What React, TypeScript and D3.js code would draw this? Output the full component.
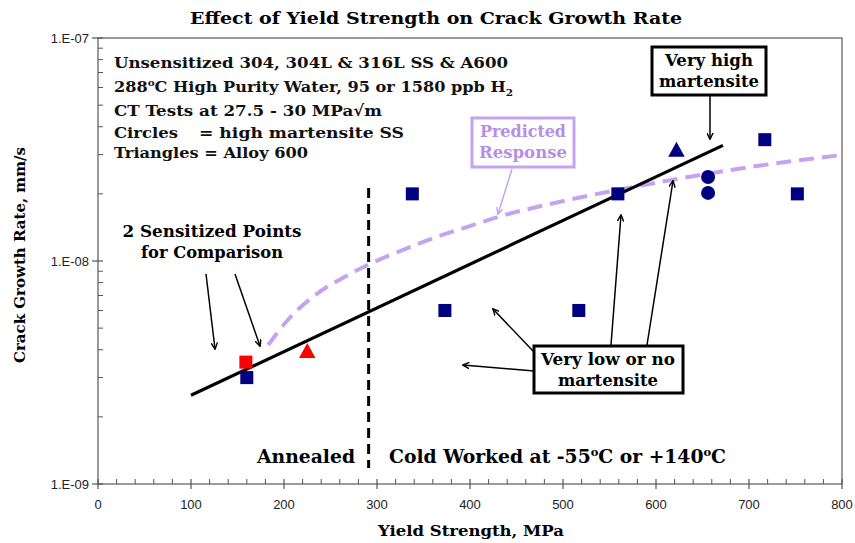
import React from "react";
import * as d3 from "d3";

// ---- data ----
const navySquareX = [160, 338, 373, 517, 559, 717, 752];
const navySquareY = [3.0e-9, 2.0e-8, 6.0e-9, 6.0e-9, 2.0e-8, 3.5e-8, 2.0e-8];
const navyCircleX = [656, 656];
const navyCircleY = [2.38e-8, 2.02e-8];
const navyTriangleX = [622];
const navyTriangleY = [3.15e-8];
const redSquareX = [159];
const redSquareY = [3.52e-9];
const redTriangleX = [225];
const redTriangleY = [3.94e-9];
const trendX = [100, 672];
const trendY = [2.5e-9, 3.3e-8];
const predictedX = [183, 206, 235, 263, 292, 325, 364, 407, 432, 486, 558, 629, 701, 800];
const predictedY = [4.2e-9, 5.55e-9, 7.11e-9, 8.39e-9, 9.69e-9, 1.109e-8, 1.281e-8, 1.466e-8, 1.584e-8, 1.801e-8, 2.081e-8, 2.356e-8, 2.639e-8, 2.988e-8];
const dividerX = 291;
const xTicks = [0, 100, 200, 300, 400, 500, 600, 700, 800];
const yTicks = [1e-9, 1e-8, 1e-7];
const yTickLabels = ["1.E-09", "1.E-08", "1.E-07"];

const W = 855, H = 543;
const M = { left: 98, right: 842, top: 38, bottom: 484 };

const NAVY = "#000080";
const RED = "#ff0000";
const PURPLE = "#c6a3f0";
const PURPLE_TEXT = "#b48fe6";
const SERIF = "'DejaVu Serif', serif";
const SANS = "'Liberation Sans', Arial, sans-serif";

export default function App() {
  const x = d3.scaleLinear().domain([0, 800]).range([M.left, M.right]);
  const y = d3.scaleLog().domain([1e-9, 1e-7]).range([M.bottom, M.top]);

  const minorX = d3.range(0, 801, 20).filter((v) => v % 100 !== 0);
  const minorY: number[] = [];
  [1e-9, 1e-8].forEach((d) => {
    for (let k = 2; k <= 9; k++) minorY.push(d * k);
  });

  const trendLine = d3
    .line<number>()
    .x((_, i) => x(trendX[i]))
    .y((_, i) => y(trendY[i]))(trendX);
  const predLine = d3
    .line<number>()
    .x((_, i) => x(predictedX[i]))
    .y((_, i) => y(predictedY[i]))
    .curve(d3.curveMonotoneX)(predictedX);

  const sq = 13;
  const triPath = (cx: number, cy: number, s: number) =>
    `M${cx},${cy - s * 0.55}L${cx + s * 0.55},${cy + s * 0.45}L${cx - s * 0.55},${cy + s * 0.45}Z`;

  const arrow = (x1: number, y1: number, x2: number, y2: number, color = "#000") => (
    <line x1={x1} y1={y1} x2={x2} y2={y2} stroke={color} strokeWidth={1.5}
      markerEnd={color === "#000" ? "url(#ah)" : "url(#ahp)"} />
  );

  const boldText = { fontFamily: SERIF, fontWeight: 700 } as const;
  const fit = (w: number) => ({ textLength: w, lengthAdjust: "spacingAndGlyphs" as const });

  return (
    <svg width={W} height={H} style={{ position: "absolute", left: 0, top: 0, background: "#fff" }}>
      <defs>
        <marker id="ah" viewBox="0 0 10 10" refX="9" refY="5" markerWidth="7" markerHeight="7"
          markerUnits="userSpaceOnUse" orient="auto">
          <path d="M0,0.5 L9.5,5 L0,9.5" fill="none" stroke="#000" strokeWidth={2} />
        </marker>
        <marker id="ahp" viewBox="0 0 10 10" refX="9" refY="5" markerWidth="7" markerHeight="7"
          markerUnits="userSpaceOnUse" orient="auto">
          <path d="M0,0.5 L9.5,5 L0,9.5" fill="none" stroke={PURPLE} strokeWidth={2} />
        </marker>
      </defs>

      {/* title */}
      <text x={436} y={24} textAnchor="middle" fontSize={17.5} {...boldText} {...fit(492)}>
        Effect of Yield Strength on Crack Growth Rate
      </text>

      {/* frame */}
      <rect x={M.left} y={M.top} width={M.right - M.left} height={M.bottom - M.top} fill="none" stroke="#666" strokeWidth={1.3} />

      {/* x ticks */}
      {minorX.map((v) => (
        <line key={"mx" + v} x1={x(v)} x2={x(v)} y1={M.bottom} y2={M.bottom - 5} stroke="#555" strokeWidth={1} />
      ))}
      {xTicks.map((v) => (
        <g key={"x" + v}>
          <line x1={x(v)} x2={x(v)} y1={M.bottom - 5} y2={M.bottom + 5} stroke="#555" strokeWidth={1.2} />
          <text x={x(v)} y={509} textAnchor="middle" fontSize={13} fontFamily={SANS} fill="#222">{v}</text>
        </g>
      ))}
      {/* y ticks */}
      {minorY.map((v, i) => (
        <line key={"my" + i} x1={M.left} x2={M.left + 5} y1={y(v)} y2={y(v)} stroke="#555" strokeWidth={1} />
      ))}
      {yTicks.map((v, i) => (
        <g key={"y" + i}>
          <line x1={M.left - 6} x2={M.left + 5} y1={y(v)} y2={y(v)} stroke="#555" strokeWidth={1.2} />
          <text x={89} y={y(v) + 4.5} textAnchor="end" fontSize={13} fontFamily={SANS} fill="#222">{yTickLabels[i]}</text>
        </g>
      ))}

      {/* axis titles */}
      <text x={471} y={536} textAnchor="middle" fontSize={15} {...boldText} {...fit(186)}>
        Yield Strength, MPa
      </text>
      <text transform={`translate(25,255) rotate(-90)`} textAnchor="middle" fontSize={15} {...boldText} {...fit(216)}>
        Crack Growth Rate, mm/s
      </text>

      {/* divider */}
      <line x1={x(dividerX)} x2={x(dividerX)} y1={188} y2={468} stroke="#000" strokeWidth={3} strokeDasharray="10 6" />
      <text x={306} y={463} textAnchor="middle" fontSize={18} {...boldText} {...fit(98)}>Annealed</text>
      <text x={389} y={463} fontSize={18} {...boldText} {...fit(337)}>
        Cold Worked at -55<tspan fontSize={11} dy={-7}>o</tspan><tspan dy={7}>C or +140</tspan>
        <tspan fontSize={11} dy={-7}>o</tspan><tspan dy={7}>C</tspan>
      </text>

      {/* predicted response */}
      <path d={predLine || ""} fill="none" stroke={PURPLE} strokeWidth={4} strokeDasharray="15 8" />
      {/* trend */}
      <path d={trendLine || ""} fill="none" stroke="#000" strokeWidth={3.2} />

      {/* markers */}
      {navySquareX.map((v, i) => (
        <rect key={"ns" + i} x={x(v) - sq / 2} y={y(navySquareY[i]) - sq / 2} width={sq} height={sq} fill={NAVY} />
      ))}
      {navyCircleX.map((v, i) => (
        <circle key={"nc" + i} cx={x(v)} cy={y(navyCircleY[i])} r={7} fill={NAVY} />
      ))}
      {navyTriangleX.map((v, i) => (
        <path key={"nt" + i} d={triPath(x(v), y(navyTriangleY[i]), 15)} fill={NAVY} />
      ))}
      {redSquareX.map((v, i) => (
        <rect key={"rs" + i} x={x(v) - sq / 2} y={y(redSquareY[i]) - sq / 2} width={sq} height={sq} fill={RED} />
      ))}
      {redTriangleX.map((v, i) => (
        <path key={"rt" + i} d={triPath(x(v), y(redTriangleY[i]), 15)} fill={RED} />
      ))}

      {/* info block */}
      <g fontSize={15.5} {...boldText} fill="#111">
        <text x={114} y={68} {...fit(394)}>Unsensitized 304, 304L &amp; 316L SS &amp; A600</text>
        <text x={114} y={92} {...fit(399)}>
          288<tspan fontSize={10} dy={-6}>o</tspan><tspan dy={6}>C High Purity Water, 95 or 1580 ppb H</tspan>
          <tspan fontSize={10} dy={4}>2</tspan>
        </text>
        <text x={114} y={116} {...fit(268)}>CT Tests at 27.5 - 30 MPa√m</text>
        <text x={114} y={138} {...fit(64)}>Circles</text>
        <text x={199} y={138} {...fit(205)}>= high martensite SS</text>
        <text x={114} y={158} {...fit(194)}>Triangles = Alloy 600</text>
      </g>

      {/* predicted response label */}
      <rect x={472} y={118} width={102} height={49} fill="#fff" stroke={PURPLE} strokeWidth={3} />
      <text x={523} y={137} textAnchor="middle" fontSize={16} {...boldText} fill={PURPLE_TEXT} {...fit(86)}>Predicted</text>
      <text x={523} y={158} textAnchor="middle" fontSize={16} {...boldText} fill={PURPLE_TEXT} {...fit(88)}>Response</text>
      {arrow(512, 169, 498, 214, PURPLE)}

      {/* sensitized note */}
      <text x={212} y={237} textAnchor="middle" fontSize={16} {...boldText} {...fit(179)}>2 Sensitized Points</text>
      <text x={212} y={258} textAnchor="middle" fontSize={16} {...boldText} {...fit(142)}>for Comparison</text>
      {arrow(206, 274, 215, 349)}
      {arrow(235, 274, 260, 346)}

      {/* very high martensite */}
      <rect x={652} y={47} width={114} height={48} fill="#fff" stroke="#000" strokeWidth={3} />
      <text x={709} y={66} textAnchor="middle" fontSize={16} {...boldText} {...fit(88)}>Very high</text>
      <text x={709} y={87} textAnchor="middle" fontSize={16} {...boldText} {...fit(100)}>martensite</text>
      {arrow(710, 95, 710, 139)}

      {/* very low martensite */}
      <rect x={534} y={346} width={149} height={47} fill="#fff" stroke="#000" strokeWidth={3} />
      <text x={608} y={365} textAnchor="middle" fontSize={16} {...boldText} {...fit(134)}>Very low or no</text>
      <text x={608} y={386} textAnchor="middle" fontSize={16} {...boldText} {...fit(100)}>martensite</text>
      {arrow(534, 352, 493, 309)}
      {arrow(534, 371, 463, 365)}
      {arrow(611, 345, 621, 215)}
      {arrow(647, 345, 673, 181)}
    </svg>
  );
}
